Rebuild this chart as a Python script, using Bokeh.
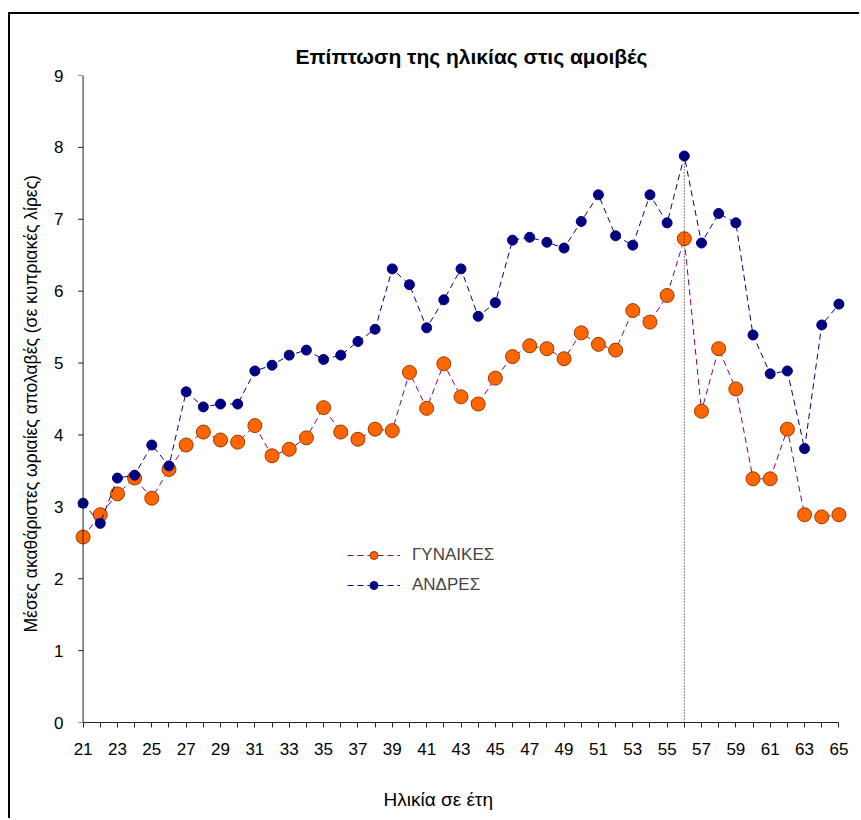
from math import pi

from bokeh.embed import file_html
from bokeh.models import (FixedTicker, Legend, LegendItem, LinearAxis, Range1d,
                          Span, Title)
from bokeh.plotting import figure
from bokeh.resources import INLINE

# Average gross hourly earnings by age (Cyprus pounds)
ages = list(range(21, 66))
women = [2.58, 2.89, 3.18, 3.40, 3.12, 3.52, 3.86, 4.04, 3.93, 3.90,
         4.13, 3.71, 3.80, 3.96, 4.38, 4.04, 3.94, 4.08, 4.06, 4.87,
         4.37, 4.99, 4.53, 4.43, 4.79, 5.09, 5.24, 5.20, 5.06, 5.42,
         5.26, 5.18, 5.73, 5.57, 5.94, 6.73, 4.33, 5.20, 4.64, 3.39,
         3.39, 4.08, 2.89, 2.86, 2.89]
men = [3.05, 2.77, 3.40, 3.44, 3.86, 3.57, 4.60, 4.39, 4.43, 4.43,
       4.89, 4.97, 5.11, 5.18, 5.05, 5.11, 5.30, 5.47, 6.31, 6.09,
       5.49, 5.88, 6.31, 5.65, 5.84, 6.71, 6.75, 6.68, 6.60, 6.97,
       7.34, 6.77, 6.64, 7.34, 6.95, 7.88, 6.67, 7.08, 6.95, 5.39,
       4.85, 4.89, 3.81, 5.53, 5.82]
y_ticks = list(range(0, 10))
x_tick_labels = {a: (str(a) if a % 2 == 1 else "") for a in ages}

title_text = "Επίπτωση της ηλικίας στις αμοιβές"
x_title = "Ηλικία σε έτη"
y_title = "Μέσες ακαθάριστες ωριαίες απολαβές (σε κυπριακές λίρες)"
series_names = ["ΓΥΝΑΙΚΕΣ", "ΑΝΔΡΕΣ"]

FONT = "Liberation Sans, Arial, sans-serif"
AXIS_COLOR = "#222222"

p = figure(width=851, height=806,
           x_range=Range1d(ages[0] - 0.5, ages[-1] + 0.5),
           y_range=Range1d(y_ticks[0], y_ticks[-1]),
           output_backend="svg", toolbar_location=None,
           min_border_left=64, min_border_right=14,
           min_border_top=61, min_border_bottom=98)
p.margin = (12, 0, 0, 8)
p.styles = {"border-top": "2px solid #000", "border-left": "2px solid #000"}
p.outline_line_color = None
p.xgrid.visible = False
p.ygrid.visible = False

# chart title
p.title.text = title_text
p.title.align = "left"
p.title.offset = 221
p.title.standoff = 16
p.title.text_font = FONT
p.title.text_font_size = "21px"
p.title.text_font_style = "bold"
p.title.text_color = "black"

# x axis: a tick for every age, labels on odd ages
p.xaxis.bounds = (ages[0], ages[-1])
p.xaxis.ticker = FixedTicker(ticks=ages)
p.xaxis.major_label_overrides = x_tick_labels
p.xaxis.axis_line_color = AXIS_COLOR
p.xaxis.major_tick_line_color = AXIS_COLOR
p.xaxis.major_tick_in = 0
p.xaxis.major_tick_out = 5
p.xaxis.major_label_standoff = 15

# y axis: labels from the side panel, line and ticks drawn at the first age
p.yaxis.ticker = FixedTicker(ticks=y_ticks)
p.yaxis.axis_line_color = None
p.yaxis.major_tick_line_color = None
p.yaxis.major_tick_in = 0
p.yaxis.major_tick_out = 0
p.yaxis.major_label_standoff = 11

for ax in (p.xaxis[0], p.yaxis[0]):
    ax.minor_tick_line_color = None
    ax.major_label_text_font = FONT
    ax.major_label_text_font_size = "17px"
    ax.major_label_text_color = "black"

p.add_layout(Span(location=ages[0], dimension="height",
                  line_color=AXIS_COLOR, line_width=1))
p.ray(x=[ages[0]] * len(y_ticks), y=y_ticks, length=5, angle=pi,
      length_units="screen", line_color=AXIS_COLOR, line_width=1)

# invisible axis that spaces the x axis title away from the tick labels
spacer = LinearAxis(ticker=FixedTicker(ticks=[ages[0]]),
                    major_label_overrides={ages[0]: ""},
                    axis_line_alpha=0, major_tick_line_alpha=0,
                    minor_tick_line_alpha=0, major_label_text_alpha=0,
                    major_label_text_font_size="1px",
                    major_tick_in=0, major_tick_out=31, minor_tick_out=0,
                    major_label_standoff=0)
p.add_layout(spacer, "below")

# axis titles
p.add_layout(Title(text=x_title, align="left", offset=309, standoff=0,
                   vertical_align="top",
                   text_font=FONT, text_font_size="19px",
                   text_font_style="normal", text_color="black"), "below")
p.add_layout(Title(text=y_title, align="left", offset=90, standoff=19,
                   vertical_align="middle",
                   text_font=FONT, text_font_size="17.5px",
                   text_font_style="normal", text_color="black"), "left")

# women series
w_line = p.line(ages, women, line_color="#800080", line_width=1, line_dash="6 4")
w_pts = p.scatter(ages, women, size=14, fill_color="#FF6600",
                  line_color="#9A3A00", line_width=1)
# men series
m_line = p.line(ages, men, line_color="#000080", line_width=1, line_dash="6 4")
m_pts = p.scatter(ages, men, size=10, fill_color="#000080", line_color="#000080")

# dotted marker at the age of the men's peak
peak = max(range(len(men)), key=lambda i: men[i])
p.segment(x0=[ages[peak]], y0=[0], x1=[ages[peak]], y1=[men[peak]],
          line_color="black", line_width=1, line_dash="1 2")

legend = Legend(items=[LegendItem(label=series_names[0], renderers=[w_line, w_pts]),
                       LegendItem(label=series_names[1], renderers=[m_line, m_pts])],
                location=(273, 127), orientation="vertical",
                border_line_color=None, background_fill_alpha=0,
                padding=0, margin=0, spacing=10,
                glyph_width=53, glyph_height=20, label_height=20,
                label_standoff=12, label_text_font=FONT,
                label_text_font_size="17px")
p.add_layout(legend)

open("out.html", "w").write(file_html(p, INLINE))
